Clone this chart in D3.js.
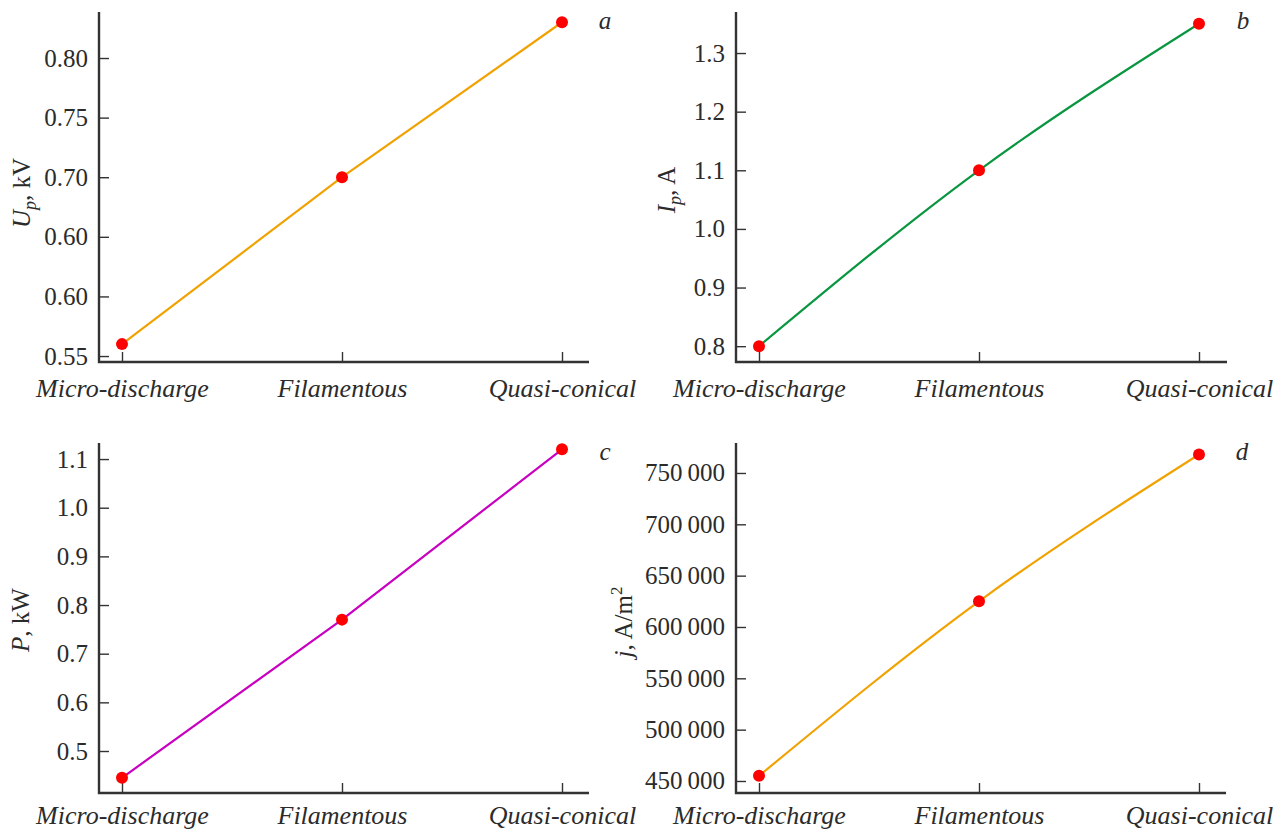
<!DOCTYPE html>
<html>
<head>
<meta charset="utf-8">
<script src="https://cdn.jsdelivr.net/npm/d3@7"></script>
<style>
  html, body { margin: 0; padding: 0; background: #fff; }
  svg { display: block; }
  svg text { font-family: "Liberation Serif", "Times New Roman", serif; }
</style>
</head>
<body>
<svg id="chart" width="1276" height="832"></svg>
<script>
// ---- data ----
const categories = ["Micro-discharge", "Filamentous", "Quasi-conical"];

const voltageValues = [0.56, 0.70, 0.83];      // U_p, kV  (a)
const currentValues = [0.80, 1.10, 1.35];      // I_p, A   (b)
const powerValues   = [0.445, 0.77, 1.12];     // P, kW    (c)
const densityValues = [455000, 625000, 768000]; // j, A/m2 (d)

const voltageTicks = [0.55, 0.60, 0.65, 0.70, 0.75, 0.80];
const voltageTickLabels = ["0.55", "0.60", "0.60", "0.70", "0.75", "0.80"];
const currentTicks = [0.8, 0.9, 1.0, 1.1, 1.2, 1.3];
const currentTickLabels = ["0.8", "0.9", "1.0", "1.1", "1.2", "1.3"];
const powerTicks = [0.5, 0.6, 0.7, 0.8, 0.9, 1.0, 1.1];
const powerTickLabels = ["0.5", "0.6", "0.7", "0.8", "0.9", "1.0", "1.1"];
const densityTicks = [450000, 500000, 550000, 600000, 650000, 700000, 750000];
const densityTickLabels = ["450\u2009000", "500\u2009000", "550\u2009000", "600\u2009000", "650\u2009000", "700\u2009000", "750\u2009000"];

const panelLetters = ["a", "b", "c", "d"];

// ---- drawing ----
const svg = d3.select("#chart");
const axisColor = "#333";
const textColor = "#2b2b2b";
const serif = "Liberation Serif, Times New Roman, serif";

const panels = [
  { letter: panelLetters[0], values: voltageValues, ticks: voltageTicks, labels: voltageTickLabels,
    domain: [0.545, 0.8386], left: 99, right: 589, top: 12, bottom: 362, x0: 122, x1: 562,
    color: "#f0a202", curve: d3.curveLinear, title: "U", sub: "p", rest: ", kV", sup: null,
    labelX: 30, labelY: 193, catOffset: 35 },
  { letter: panelLetters[1], values: currentValues, ticks: currentTicks, labels: currentTickLabels,
    domain: [0.773, 1.370], left: 736, right: 1227, top: 12, bottom: 362, x0: 759, x1: 1199,
    color: "#0a9640", curve: d3.curveNatural, title: "I", sub: "p", rest: ", A", sup: null,
    labelX: 675, labelY: 190, catOffset: 35 },
  { letter: panelLetters[2], values: powerValues, ticks: powerTicks, labels: powerTickLabels,
    domain: [0.4137, 1.133], left: 99, right: 589, top: 443, bottom: 793, x0: 122, x1: 562,
    color: "#c800c0", curve: d3.curveLinear, title: "P", sub: null, rest: ", kW", sup: null,
    labelX: 29, labelY: 620, catOffset: 31 },
  { letter: panelLetters[3], values: densityValues, ticks: densityTicks, labels: densityTickLabels,
    domain: [438300, 779200], left: 736, right: 1226, top: 443, bottom: 793, x0: 759, x1: 1199,
    color: "#f0a202", curve: d3.curveNatural, title: "j", sub: null, rest: ", A/m", sup: "2",
    labelX: 632, labelY: 622, catOffset: 31 }
];

panels.forEach(p => {
  const g = svg.append("g");
  const x = d3.scalePoint().domain(categories).range([p.x0, p.x1]);
  const y = d3.scaleLinear().domain(p.domain).range([p.bottom, p.top]);

  // y axis
  const yAxis = d3.axisLeft(y)
    .tickValues(p.ticks)
    .tickFormat((d, i) => p.labels[i])
    .tickSize(-10)
    .tickPadding(11);
  const yg = g.append("g").attr("transform", `translate(${p.left},0)`).call(yAxis)
    .attr("font-family", serif)
    .attr("font-size", 25);
  yg.select(".domain").remove();
  yg.selectAll(".tick line").attr("stroke", axisColor).attr("stroke-width", 1.4);
  yg.selectAll(".tick text").attr("fill", textColor);

  // x axis
  const xAxis = d3.axisBottom(x).tickSize(-10).tickPadding(0);
  const xg = g.append("g").attr("transform", `translate(0,${p.bottom})`).call(xAxis)
    .attr("font-family", serif)
    .attr("font-size", 26)
    .attr("font-style", "italic");
  xg.select(".domain").remove();
  xg.selectAll(".tick line").attr("stroke", axisColor).attr("stroke-width", 1.4);
  xg.selectAll(".tick text")
    .attr("y", p.catOffset)
    .attr("dy", 0)
    .attr("fill", textColor);

  // axis spines
  g.append("path")
    .attr("d", `M${p.left},${p.top}V${p.bottom}H${p.right}`)
    .attr("fill", "none")
    .attr("stroke", axisColor)
    .attr("stroke-width", 2.4);

  // line
  const line = d3.line()
    .x((d, i) => x(categories[i]))
    .y(d => y(d))
    .curve(p.curve);
  g.append("path")
    .datum(p.values)
    .attr("d", line)
    .attr("fill", "none")
    .attr("stroke", p.color)
    .attr("stroke-width", 2.2);

  // points
  g.selectAll("circle.pt")
    .data(p.values)
    .join("circle")
    .attr("class", "pt")
    .attr("cx", (d, i) => x(categories[i]))
    .attr("cy", d => y(d))
    .attr("r", 6)
    .attr("fill", "#ff0000");

  // axis title (rotated)
  const t = g.append("text")
    .attr("transform", `translate(${p.labelX},${p.labelY}) rotate(-90)`)
    .attr("text-anchor", "middle")
    .attr("fill", textColor)
    .attr("font-family", serif)
    .attr("font-size", 25);
  t.append("tspan").attr("font-style", "italic").text(p.title);
  if (p.sub) {
    t.append("tspan").attr("font-style", "italic").attr("font-size", 18)
      .attr("dy", 6).text(p.sub);
    t.append("tspan").attr("dy", -6).text(p.rest);
  } else {
    t.append("tspan").text(p.rest);
  }
  if (p.sup) {
    t.append("tspan").attr("font-size", 17).attr("dy", -10).text(p.sup);
  }

  // panel letter
  g.append("text")
    .attr("x", p.right + 16)
    .attr("y", p.top + 17)
    .attr("text-anchor", "middle")
    .attr("fill", textColor)
    .attr("font-family", serif)
    .attr("font-style", "italic")
    .attr("font-size", 25)
    .text(p.letter);
});
</script>
</body>
</html>
